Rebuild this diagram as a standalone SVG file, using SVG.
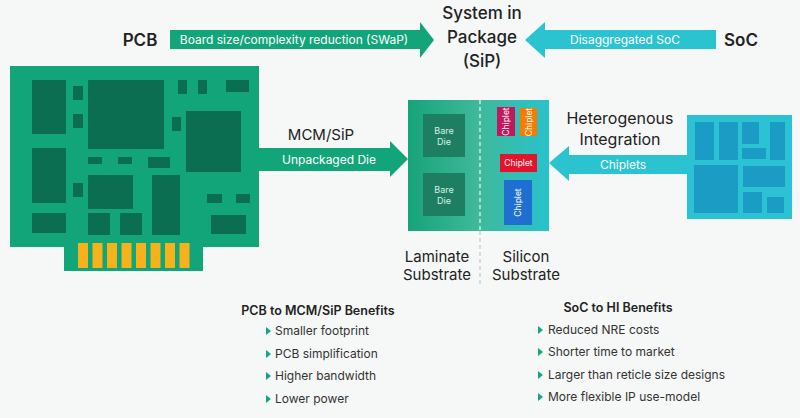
<svg xmlns="http://www.w3.org/2000/svg" width="800" height="418" viewBox="0 0 800 418">
<style>
text{font-family:"Inter","Noto Sans","Liberation Sans",sans-serif;fill:#222}
.lbl{fill:#fff;font-size:12px}
.dk{fill:#0c6e50}
.cy{fill:#1b9cc4}
.b{font-size:12px;fill:#333}
.h{font-size:12.5px;font-weight:600;fill:#222}
.tri{fill:#13a585}
</style>
<defs>
<linearGradient id="sub" x1="0" x2="1"><stop offset="0" stop-color="#17a37a"/><stop offset="0.5" stop-color="#3fb99a"/><stop offset="1" stop-color="#29c2cc"/></linearGradient>
</defs>
<rect width="800" height="418" fill="#f6f7f7"/>
<g id="pcb">
<rect x="64" y="240" width="139" height="31" fill="#13a57a"/>
<rect x="10" y="66" width="249" height="181" fill="#13a57a"/>
<g fill="#f6b21b">
<rect x="78" y="243" width="10" height="25"/><rect x="92.5" y="243" width="10" height="25"/><rect x="107" y="243" width="10" height="25"/><rect x="121.5" y="243" width="10" height="25"/><rect x="136" y="243" width="10" height="25"/><rect x="150.5" y="243" width="10" height="25"/><rect x="165" y="243" width="10" height="25"/><rect x="179.5" y="243" width="10" height="25"/>
</g>
<g class="dk">
<rect x="32" y="80" width="34" height="54"/><rect x="73" y="86" width="10" height="14"/><rect x="73" y="114" width="10" height="14"/>
<rect x="88" y="80" width="76" height="69"/><rect x="178" y="80" width="9" height="14"/><rect x="198" y="80" width="9" height="14"/><rect x="226" y="80" width="23" height="12"/>
<rect x="172" y="117" width="9" height="14"/><rect x="186" y="111" width="55" height="61"/>
<rect x="32" y="148" width="34" height="55"/><rect x="88" y="157" width="14" height="7"/><rect x="118" y="157" width="14" height="7"/><rect x="148" y="157" width="22" height="11"/>
<rect x="73" y="183" width="10" height="14"/><rect x="88" y="175" width="45" height="34"/><rect x="152" y="175" width="28" height="60"/>
<rect x="207" y="194" width="15" height="9"/><rect x="236" y="194" width="14" height="9"/>
<rect x="32" y="213" width="34" height="20"/><rect x="88" y="213" width="22" height="22"/><rect x="120" y="213" width="22" height="22"/><rect x="211" y="215" width="35" height="19"/>
</g>
<text x="140" y="46" text-anchor="middle" font-size="17" font-weight="600">PCB</text>
</g>
<g id="soc">
<rect x="687" y="115" width="105" height="104" fill="#2bc3d3"/>
<g class="cy">
<rect x="695" y="122" width="19" height="38"/><rect x="719" y="122" width="19" height="38"/><rect x="742" y="122" width="17" height="22"/><rect x="742" y="148" width="24" height="11"/><rect x="770" y="122" width="15" height="38"/>
<rect x="694" y="165" width="44" height="48"/><rect x="743" y="166" width="42" height="21"/><rect x="743" y="192" width="19" height="21"/><rect x="767" y="197" width="17" height="16"/>
</g>
<text x="741" y="46" text-anchor="middle" font-size="17" font-weight="600">SoC</text>
</g>
<g id="sip">
<text text-anchor="middle" font-size="17" font-weight="500" fill="#222"><tspan x="482" y="19">System in</tspan><tspan x="482" y="43">Package</tspan><tspan x="482" y="67">(SiP)</tspan></text>
</g>
<g id="substrate">
<rect x="408" y="100" width="141" height="131" fill="url(#sub)"/>
<line x1="480" y1="100" x2="480" y2="285" stroke="#fff" stroke-width="1.2" stroke-dasharray="4 3" opacity="0.9"/>
<line x1="480" y1="231" x2="480" y2="285" stroke="#bbb" stroke-width="1" stroke-dasharray="4 3"/>
<rect x="423" y="114" width="42" height="43" fill="#1e7e62"/><rect x="423" y="173" width="42" height="43" fill="#1e7e62"/>
<text text-anchor="middle" font-size="9" style="fill:#d8eee6"><tspan x="444" y="134">Bare</tspan><tspan x="444" y="145">Die</tspan><tspan x="444" y="193">Bare</tspan><tspan x="444" y="204">Die</tspan></text>
<rect x="497" y="107" width="18" height="29" fill="#c2185b"/>
<rect x="520" y="108" width="17" height="28" fill="#f57c00"/>
<rect x="500" y="154" width="37" height="18" fill="#e3132d"/>
<rect x="504" y="180" width="28" height="45" fill="#1f6fd1"/>
<g font-size="8.5" text-anchor="middle">
<text x="0" y="0" transform="translate(509,121.5) rotate(-90)" style="fill:#fff">Chiplet</text>
<text x="0" y="0" transform="translate(531.5,122) rotate(-90)" style="fill:#fff">Chiplet</text>
<text x="518.5" y="166" style="fill:#fff">Chiplet</text>
<text x="0" y="0" transform="translate(521,202.5) rotate(-90)" style="fill:#fff">Chiplet</text>
</g>
<text text-anchor="middle" font-size="15"><tspan x="437" y="262">Laminate</tspan><tspan x="437" y="280">Substrate</tspan><tspan x="526" y="262">Silicon</tspan><tspan x="526" y="280">Substrate</tspan></text>
</g>
<g id="connectors">
<polygon points="170,30 420,30 420,22 434,40 420,58 420,49 170,49" fill="#13a57a"/>
<text class="lbl" x="294" y="44" text-anchor="middle" style="fill:#fff">Board size/complexity reduction (SWaP)</text>
<polygon points="716,30 545,30 545,22 525,40 545,58 545,49 716,49" fill="#2bc3cf"/>
<text class="lbl" x="625" y="44" text-anchor="middle" style="fill:#fff">Disaggregated SoC</text>
<polygon points="259,148 390,148 390,141 408,159 390,177 390,171 259,171" fill="#13a57a"/>
<text class="lbl" x="329" y="164" text-anchor="middle" style="fill:#fff">Unpackaged Die</text>
<text x="321" y="140" text-anchor="middle" font-size="15">MCM/SiP</text>
<polygon points="687,155 569,155 569,146 549,163 569,181 569,174 687,174" fill="#2bc3cf"/>
<text class="lbl" x="623" y="169" text-anchor="middle" style="fill:#fff">Chiplets</text>
<text text-anchor="middle" font-size="16"><tspan x="620" y="124">Heterogenous</tspan><tspan x="620" y="145">Integration</tspan></text>
</g>
<g id="benefits">
<text class="h" x="318" y="315" text-anchor="middle">PCB to MCM/SiP Benefits</text>
<text class="h" x="618" y="312" text-anchor="middle">SoC to HI Benefits</text>
<g class="tri">
<polygon points="266,327 266,335 271,331"/><polygon points="266,350 266,358 271,354"/><polygon points="266,372 266,380 271,376"/><polygon points="266,395 266,403 271,399"/>
<polygon points="538,326 538,334 543,330"/><polygon points="538,348 538,356 543,352"/><polygon points="538,371 538,379 543,375"/><polygon points="538,393 538,401 543,397"/>
</g>
<g>
<text class="b" x="275" y="335">Smaller footprint</text><text class="b" x="275" y="358">PCB simplification</text><text class="b" x="275" y="380">Higher bandwidth</text><text class="b" x="275" y="403">Lower power</text>
<text class="b" x="548" y="334">Reduced NRE costs</text><text class="b" x="548" y="356">Shorter time to market</text><text class="b" x="548" y="379">Larger than reticle size designs</text><text class="b" x="548" y="401">More flexible IP use-model</text>
</g>
</g>
</svg>
